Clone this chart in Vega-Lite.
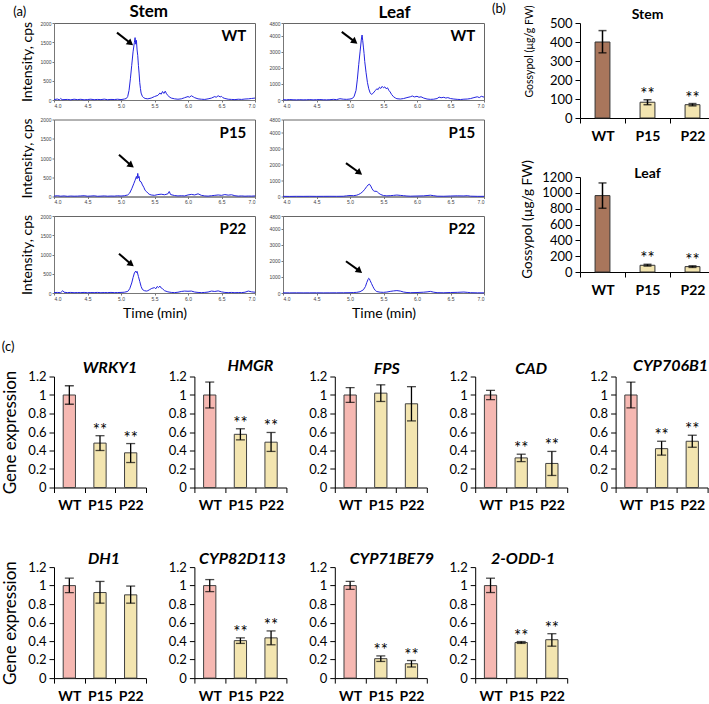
{
"$schema":"https://vega.github.io/schema/vega-lite/v6.json",
"padding":{"left":1,"top":2,"right":0,"bottom":0},
"background":"white",
"config":{
 "font":"Lato",
 "view":{"stroke":null},
 "axis":{"grid":false,"labelColor":"#000","titleColor":"#000","domainColor":"#000","tickColor":"#000","labelFont":"Lato","titleFont":"Lato","titleFontWeight":"normal"},
 "axisBand":{"tickBand":"extent","labelFontWeight":"bold","labelFontSize":14,"labelPadding":6,"tickSize":5,"labelAngle":0},
 "axisQuantitative":{"labelFontSize":13,"tickSize":5,"labelPadding":3,"titleFontSize":17},
 "title":{"font":"Lato","fontWeight":"bold","fontSize":16,"color":"#000"}
},
"datasets":{
 "sWT":[{"t":4.0,"i":10},{"t":4.05,"i":25},{"t":4.08,"i":5},{"t":4.1,"i":40},{"t":4.12,"i":8},{"t":4.2,"i":15},{"t":4.25,"i":5},{"t":4.3,"i":20},{"t":4.35,"i":10},{"t":4.4,"i":18},{"t":4.45,"i":5},{"t":4.5,"i":12},{"t":4.55,"i":20},{"t":4.6,"i":8},{"t":4.65,"i":15},{"t":4.7,"i":10},{"t":4.75,"i":22},{"t":4.8,"i":8},{"t":4.85,"i":15},{"t":4.9,"i":12},{"t":4.95,"i":20},{"t":5.0,"i":10},{"t":5.05,"i":25},{"t":5.08,"i":40},{"t":5.1,"i":90},{"t":5.12,"i":250},{"t":5.14,"i":550},{"t":5.16,"i":900},{"t":5.18,"i":1250},{"t":5.2,"i":1500},{"t":5.21,"i":1620},{"t":5.22,"i":1450},{"t":5.23,"i":1550},{"t":5.24,"i":1300},{"t":5.25,"i":1150},{"t":5.26,"i":900},{"t":5.27,"i":700},{"t":5.28,"i":450},{"t":5.29,"i":300},{"t":5.3,"i":180},{"t":5.32,"i":90},{"t":5.34,"i":60},{"t":5.36,"i":40},{"t":5.4,"i":30},{"t":5.45,"i":50},{"t":5.5,"i":90},{"t":5.55,"i":120},{"t":5.58,"i":180},{"t":5.6,"i":150},{"t":5.62,"i":220},{"t":5.64,"i":170},{"t":5.66,"i":230},{"t":5.68,"i":160},{"t":5.7,"i":120},{"t":5.72,"i":80},{"t":5.75,"i":50},{"t":5.8,"i":30},{"t":5.85,"i":20},{"t":5.9,"i":30},{"t":5.95,"i":60},{"t":6.0,"i":90},{"t":6.02,"i":70},{"t":6.05,"i":110},{"t":6.08,"i":80},{"t":6.1,"i":60},{"t":6.15,"i":30},{"t":6.2,"i":20},{"t":6.25,"i":15},{"t":6.3,"i":30},{"t":6.35,"i":50},{"t":6.4,"i":90},{"t":6.42,"i":70},{"t":6.45,"i":110},{"t":6.48,"i":80},{"t":6.5,"i":95},{"t":6.52,"i":60},{"t":6.55,"i":40},{"t":6.6,"i":20},{"t":6.65,"i":15},{"t":6.7,"i":10},{"t":6.75,"i":20},{"t":6.8,"i":15},{"t":6.85,"i":25},{"t":6.9,"i":30},{"t":6.95,"i":40},{"t":7.0,"i":50}],
 "sP15":[{"t":4.0,"i":10},{"t":4.05,"i":20},{"t":4.1,"i":8},{"t":4.15,"i":15},{"t":4.2,"i":5},{"t":4.25,"i":12},{"t":4.3,"i":8},{"t":4.35,"i":10},{"t":4.4,"i":15},{"t":4.45,"i":20},{"t":4.5,"i":8},{"t":4.55,"i":12},{"t":4.6,"i":18},{"t":4.65,"i":6},{"t":4.7,"i":10},{"t":4.75,"i":15},{"t":4.8,"i":8},{"t":4.85,"i":12},{"t":4.9,"i":10},{"t":4.95,"i":18},{"t":5.0,"i":12},{"t":5.05,"i":20},{"t":5.1,"i":40},{"t":5.13,"i":90},{"t":5.16,"i":200},{"t":5.19,"i":330},{"t":5.21,"i":420},{"t":5.23,"i":520},{"t":5.24,"i":460},{"t":5.25,"i":600},{"t":5.26,"i":480},{"t":5.27,"i":520},{"t":5.28,"i":400},{"t":5.3,"i":380},{"t":5.32,"i":300},{"t":5.34,"i":240},{"t":5.36,"i":160},{"t":5.38,"i":130},{"t":5.4,"i":90},{"t":5.42,"i":60},{"t":5.45,"i":40},{"t":5.5,"i":30},{"t":5.55,"i":50},{"t":5.6,"i":60},{"t":5.65,"i":45},{"t":5.7,"i":70},{"t":5.72,"i":130},{"t":5.74,"i":50},{"t":5.8,"i":25},{"t":5.85,"i":15},{"t":5.9,"i":20},{"t":5.95,"i":15},{"t":6.0,"i":40},{"t":6.05,"i":55},{"t":6.1,"i":40},{"t":6.15,"i":70},{"t":6.2,"i":30},{"t":6.25,"i":15},{"t":6.3,"i":10},{"t":6.35,"i":20},{"t":6.4,"i":30},{"t":6.45,"i":40},{"t":6.5,"i":30},{"t":6.55,"i":50},{"t":6.6,"i":35},{"t":6.65,"i":45},{"t":6.7,"i":20},{"t":6.75,"i":10},{"t":6.8,"i":15},{"t":6.85,"i":8},{"t":6.9,"i":12},{"t":6.95,"i":10},{"t":7.0,"i":15}],
 "sP22":[{"t":4.0,"i":10},{"t":4.05,"i":15},{"t":4.1,"i":8},{"t":4.13,"i":60},{"t":4.15,"i":20},{"t":4.2,"i":10},{"t":4.25,"i":15},{"t":4.3,"i":8},{"t":4.35,"i":12},{"t":4.4,"i":10},{"t":4.45,"i":15},{"t":4.5,"i":8},{"t":4.55,"i":12},{"t":4.6,"i":10},{"t":4.65,"i":15},{"t":4.7,"i":8},{"t":4.75,"i":12},{"t":4.8,"i":10},{"t":4.85,"i":15},{"t":4.9,"i":10},{"t":4.95,"i":12},{"t":5.0,"i":15},{"t":5.05,"i":20},{"t":5.1,"i":40},{"t":5.13,"i":110},{"t":5.16,"i":260},{"t":5.18,"i":400},{"t":5.2,"i":520},{"t":5.22,"i":570},{"t":5.23,"i":530},{"t":5.24,"i":560},{"t":5.26,"i":430},{"t":5.28,"i":300},{"t":5.3,"i":170},{"t":5.32,"i":90},{"t":5.35,"i":60},{"t":5.38,"i":50},{"t":5.4,"i":60},{"t":5.43,"i":90},{"t":5.46,"i":120},{"t":5.5,"i":140},{"t":5.52,"i":110},{"t":5.54,"i":170},{"t":5.56,"i":140},{"t":5.58,"i":180},{"t":5.6,"i":130},{"t":5.62,"i":110},{"t":5.65,"i":60},{"t":5.7,"i":30},{"t":5.75,"i":15},{"t":5.8,"i":10},{"t":5.85,"i":20},{"t":5.9,"i":40},{"t":5.95,"i":50},{"t":6.0,"i":45},{"t":6.05,"i":50},{"t":6.1,"i":25},{"t":6.15,"i":15},{"t":6.2,"i":10},{"t":6.25,"i":15},{"t":6.3,"i":25},{"t":6.35,"i":50},{"t":6.4,"i":40},{"t":6.45,"i":55},{"t":6.5,"i":30},{"t":6.55,"i":15},{"t":6.6,"i":10},{"t":6.65,"i":15},{"t":6.7,"i":8},{"t":6.75,"i":12},{"t":6.8,"i":10},{"t":6.85,"i":20},{"t":6.9,"i":50},{"t":6.95,"i":30},{"t":7.0,"i":20}],
 "lWT":[{"t":4.0,"i":20},{"t":4.05,"i":10},{"t":4.1,"i":30},{"t":4.15,"i":15},{"t":4.2,"i":10},{"t":4.25,"i":20},{"t":4.3,"i":10},{"t":4.35,"i":15},{"t":4.4,"i":25},{"t":4.45,"i":10},{"t":4.5,"i":20},{"t":4.55,"i":30},{"t":4.6,"i":15},{"t":4.65,"i":10},{"t":4.7,"i":20},{"t":4.75,"i":40},{"t":4.8,"i":25},{"t":4.85,"i":80},{"t":4.9,"i":50},{"t":4.95,"i":40},{"t":5.0,"i":60},{"t":5.03,"i":90},{"t":5.06,"i":200},{"t":5.09,"i":600},{"t":5.11,"i":1300},{"t":5.13,"i":2200},{"t":5.15,"i":3000},{"t":5.17,"i":3800},{"t":5.18,"i":4050},{"t":5.19,"i":3700},{"t":5.2,"i":3300},{"t":5.21,"i":2900},{"t":5.22,"i":2400},{"t":5.24,"i":1700},{"t":5.26,"i":1100},{"t":5.28,"i":700},{"t":5.3,"i":450},{"t":5.32,"i":350},{"t":5.34,"i":400},{"t":5.36,"i":500},{"t":5.38,"i":600},{"t":5.4,"i":700},{"t":5.42,"i":650},{"t":5.44,"i":800},{"t":5.46,"i":720},{"t":5.48,"i":850},{"t":5.5,"i":760},{"t":5.52,"i":820},{"t":5.54,"i":700},{"t":5.56,"i":760},{"t":5.58,"i":600},{"t":5.6,"i":500},{"t":5.62,"i":350},{"t":5.65,"i":200},{"t":5.68,"i":120},{"t":5.7,"i":80},{"t":5.75,"i":60},{"t":5.8,"i":90},{"t":5.85,"i":150},{"t":5.9,"i":200},{"t":5.93,"i":250},{"t":5.96,"i":190},{"t":6.0,"i":230},{"t":6.03,"i":170},{"t":6.06,"i":200},{"t":6.1,"i":120},{"t":6.15,"i":60},{"t":6.2,"i":40},{"t":6.25,"i":50},{"t":6.3,"i":90},{"t":6.33,"i":180},{"t":6.36,"i":140},{"t":6.4,"i":170},{"t":6.43,"i":120},{"t":6.46,"i":150},{"t":6.5,"i":90},{"t":6.55,"i":60},{"t":6.6,"i":40},{"t":6.65,"i":30},{"t":6.7,"i":50},{"t":6.75,"i":60},{"t":6.8,"i":90},{"t":6.85,"i":150},{"t":6.9,"i":200},{"t":6.93,"i":150},{"t":6.96,"i":230},{"t":7.0,"i":180}],
 "lP15":[{"t":4.0,"i":10},{"t":4.1,"i":5},{"t":4.2,"i":10},{"t":4.3,"i":8},{"t":4.4,"i":12},{"t":4.5,"i":8},{"t":4.6,"i":10},{"t":4.7,"i":12},{"t":4.8,"i":10},{"t":4.9,"i":15},{"t":4.95,"i":40},{"t":5.0,"i":60},{"t":5.05,"i":50},{"t":5.1,"i":80},{"t":5.13,"i":130},{"t":5.16,"i":200},{"t":5.19,"i":300},{"t":5.22,"i":450},{"t":5.25,"i":620},{"t":5.27,"i":720},{"t":5.29,"i":770},{"t":5.31,"i":650},{"t":5.33,"i":480},{"t":5.35,"i":360},{"t":5.37,"i":320},{"t":5.39,"i":330},{"t":5.41,"i":280},{"t":5.43,"i":200},{"t":5.46,"i":120},{"t":5.5,"i":60},{"t":5.55,"i":40},{"t":5.6,"i":50},{"t":5.65,"i":70},{"t":5.7,"i":90},{"t":5.75,"i":70},{"t":5.8,"i":50},{"t":5.85,"i":30},{"t":5.9,"i":20},{"t":6.0,"i":30},{"t":6.1,"i":40},{"t":6.15,"i":60},{"t":6.2,"i":80},{"t":6.25,"i":50},{"t":6.3,"i":20},{"t":6.4,"i":15},{"t":6.5,"i":30},{"t":6.6,"i":40},{"t":6.7,"i":35},{"t":6.75,"i":50},{"t":6.8,"i":20},{"t":6.9,"i":10},{"t":7.0,"i":10}],
 "lP22":[{"t":4.0,"i":10},{"t":4.1,"i":8},{"t":4.2,"i":12},{"t":4.3,"i":8},{"t":4.4,"i":10},{"t":4.5,"i":12},{"t":4.6,"i":8},{"t":4.7,"i":10},{"t":4.8,"i":12},{"t":4.9,"i":15},{"t":5.0,"i":20},{"t":5.05,"i":30},{"t":5.1,"i":40},{"t":5.15,"i":80},{"t":5.2,"i":200},{"t":5.23,"i":400},{"t":5.25,"i":650},{"t":5.27,"i":850},{"t":5.28,"i":920},{"t":5.29,"i":880},{"t":5.3,"i":780},{"t":5.32,"i":600},{"t":5.34,"i":420},{"t":5.36,"i":260},{"t":5.38,"i":150},{"t":5.4,"i":90},{"t":5.45,"i":50},{"t":5.5,"i":40},{"t":5.55,"i":60},{"t":5.6,"i":100},{"t":5.65,"i":130},{"t":5.7,"i":150},{"t":5.75,"i":120},{"t":5.8,"i":60},{"t":5.85,"i":30},{"t":5.9,"i":20},{"t":6.0,"i":30},{"t":6.1,"i":50},{"t":6.15,"i":70},{"t":6.2,"i":100},{"t":6.25,"i":50},{"t":6.3,"i":20},{"t":6.4,"i":15},{"t":6.5,"i":30},{"t":6.6,"i":40},{"t":6.7,"i":60},{"t":6.75,"i":40},{"t":6.8,"i":20},{"t":6.9,"i":10},{"t":7.0,"i":10}],
 "bStem":[{"g":"WT","v":400,"lo":343,"hi":460,"sig":""},{"g":"P15","v":83,"lo":70,"hi":96,"sig":"**"},{"g":"P22","v":70,"lo":64,"hi":76,"sig":"**"}],
 "bLeaf":[{"g":"WT","v":965,"lo":805,"hi":1125,"sig":""},{"g":"P15","v":85,"lo":75,"hi":97,"sig":"**"},{"g":"P22","v":68,"lo":58,"hi":78,"sig":"**"}],
 "WRKY1":[{"g":"WT","v":1.0,"lo":0.9,"hi":1.1,"sig":""},{"g":"P15","v":0.48,"lo":0.4,"hi":0.56,"sig":"**"},{"g":"P22","v":0.375,"lo":0.27,"hi":0.475,"sig":"**"}],
 "HMGR":[{"g":"WT","v":1.0,"lo":0.86,"hi":1.14,"sig":""},{"g":"P15","v":0.575,"lo":0.515,"hi":0.635,"sig":"**"},{"g":"P22","v":0.49,"lo":0.39,"hi":0.595,"sig":"**"}],
 "FPS":[{"g":"WT","v":1.0,"lo":0.92,"hi":1.08,"sig":""},{"g":"P15","v":1.02,"lo":0.93,"hi":1.11,"sig":""},{"g":"P22","v":0.905,"lo":0.72,"hi":1.09,"sig":""}],
 "CAD":[{"g":"WT","v":1.0,"lo":0.95,"hi":1.05,"sig":""},{"g":"P15","v":0.32,"lo":0.28,"hi":0.36,"sig":"**"},{"g":"P22","v":0.26,"lo":0.13,"hi":0.39,"sig":"**"}],
 "CYP706B1":[{"g":"WT","v":1.0,"lo":0.86,"hi":1.14,"sig":""},{"g":"P15","v":0.42,"lo":0.35,"hi":0.5,"sig":"**"},{"g":"P22","v":0.5,"lo":0.435,"hi":0.565,"sig":"**"}],
 "DH1":[{"g":"WT","v":1.0,"lo":0.925,"hi":1.08,"sig":""},{"g":"P15","v":0.925,"lo":0.81,"hi":1.045,"sig":""},{"g":"P22","v":0.9,"lo":0.81,"hi":0.995,"sig":""}],
 "CYP82D113":[{"g":"WT","v":1.0,"lo":0.935,"hi":1.065,"sig":""},{"g":"P15","v":0.405,"lo":0.375,"hi":0.435,"sig":"**"},{"g":"P22","v":0.435,"lo":0.36,"hi":0.51,"sig":"**"}],
 "CYP71BE79":[{"g":"WT","v":1.0,"lo":0.96,"hi":1.045,"sig":""},{"g":"P15","v":0.21,"lo":0.18,"hi":0.24,"sig":"**"},{"g":"P22","v":0.155,"lo":0.12,"hi":0.19,"sig":"**"}],
 "ODD":[{"g":"WT","v":1.0,"lo":0.925,"hi":1.08,"sig":""},{"g":"P15","v":0.385,"lo":0.375,"hi":0.395,"sig":"**"},{"g":"P22","v":0.415,"lo":0.345,"hi":0.48,"sig":"**"}]
},
"vconcat":[
 {"hconcat":[
  {"columns":2,"bounds":"flush","spacing":{"row":19.5,"column":28},
   "concat":[
    {"width":201,"height":77,"view":{"stroke":"#666","strokeWidth":1},
     "layer":[
      {"data":{"name":"sWT"},"mark":{"type":"line","color":"#2424e0","strokeWidth":1},
       "encoding":{"x":{"field":"t","type":"quantitative","scale":{"domain":[4,7],"nice":false,"zero":false},"axis":{"values":[4,4.5,5,5.5,6,6.5,7],"tickCount":20,"format":".1f","labelFont":"Liberation Sans","labelFontSize":5,"labelColor":"#444","tickSize":2,"tickColor":"#777","domainColor":"#777","labelPadding":1,"labelOverlap":false,"title":null}},
        "y":{"field":"i","type":"quantitative","scale":{"domain":[0,2000],"nice":false},"axis":{"values":[0,500,1000,1500,2000],"tickCount":20,"format":"d","labelFont":"Liberation Sans","labelFontSize":5,"labelColor":"#444","tickSize":2,"tickColor":"#777","domainColor":"#777","labelPadding":1,"labelOverlap":false,"title":"Intensity, cps","titleFontSize":14,"titlePadding":5.7}}}},
      {"data":{"values":[{}]},"mark":{"type":"rule","strokeWidth":2,"color":"#000"},"encoding":{"x":{"datum":4.94},"y":{"datum":1750},"x2":{"datum":5.12},"y2":{"datum":1505}}},
      {"data":{"values":[{}]},"mark":{"type":"point","shape":"triangle","filled":true,"size":55,"angle":128,"color":"#000","opacity":1},"encoding":{"x":{"datum":5.13},"y":{"datum":1490}}},
      {"data":{"values":[{}]},"mark":{"type":"text","text":"WT","fontWeight":"bold","fontSize":15,"align":"right","baseline":"middle"},"encoding":{"x":{"datum":6.87},"y":{"datum":1660}}},
      {"data":{"values":[{}]},"mark":{"type":"text","text":"(a)","fontSize":13,"align":"center","baseline":"middle"},"encoding":{"x":{"datum":3.49},"y":{"datum":2286}}},
      {"data":{"values":[{}]},"mark":{"type":"text","text":"Stem","fontSize":17,"fontWeight":"bold","align":"center","baseline":"middle"},"encoding":{"x":{"datum":5.414},"y":{"datum":2273}}}
     ]},
    {"width":201,"height":77,"view":{"stroke":"#666","strokeWidth":1},
     "layer":[
      {"data":{"name":"lWT"},"mark":{"type":"line","color":"#2424e0","strokeWidth":1},
       "encoding":{"x":{"field":"t","type":"quantitative","scale":{"domain":[4,7],"nice":false,"zero":false},"axis":{"values":[4,4.5,5,5.5,6,6.5,7],"tickCount":20,"format":".1f","labelFont":"Liberation Sans","labelFontSize":5,"labelColor":"#444","tickSize":2,"tickColor":"#777","domainColor":"#777","labelPadding":1,"labelOverlap":false,"title":null}},
        "y":{"field":"i","type":"quantitative","scale":{"domain":[0,4800],"nice":false},"axis":{"values":[0,1000,2000,3000,4000,4800],"tickCount":20,"format":"d","labelFont":"Liberation Sans","labelFontSize":5,"labelColor":"#444","tickSize":2,"tickColor":"#777","domainColor":"#777","labelPadding":1,"labelOverlap":false,"title":null}}}},
      {"data":{"values":[{}]},"mark":{"type":"rule","strokeWidth":2,"color":"#000"},"encoding":{"x":{"datum":4.877},"y":{"datum":4246},"x2":{"datum":5.05},"y2":{"datum":3700}}},
      {"data":{"values":[{}]},"mark":{"type":"point","shape":"triangle","filled":true,"size":55,"angle":128,"color":"#000","opacity":1},"encoding":{"x":{"datum":5.06},"y":{"datum":3674}}},
      {"data":{"values":[{}]},"mark":{"type":"text","text":"WT","fontWeight":"bold","fontSize":15,"align":"right","baseline":"middle"},"encoding":{"x":{"datum":6.87},"y":{"datum":3980}}},
      {"data":{"values":[{}]},"mark":{"type":"text","text":"Leaf","fontSize":17,"fontWeight":"bold","align":"center","baseline":"middle"},"encoding":{"x":{"datum":5.666},"y":{"datum":5446}}}
     ]},
    {"width":201,"height":77,"view":{"stroke":"#666","strokeWidth":1},
     "layer":[
      {"data":{"name":"sP15"},"mark":{"type":"line","color":"#2424e0","strokeWidth":1},
       "encoding":{"x":{"field":"t","type":"quantitative","scale":{"domain":[4,7],"nice":false,"zero":false},"axis":{"values":[4,4.5,5,5.5,6,6.5,7],"tickCount":20,"format":".1f","labelFont":"Liberation Sans","labelFontSize":5,"labelColor":"#444","tickSize":2,"tickColor":"#777","domainColor":"#777","labelPadding":1,"labelOverlap":false,"title":null}},
        "y":{"field":"i","type":"quantitative","scale":{"domain":[0,2000],"nice":false},"axis":{"values":[0,500,1000,1500,2000],"tickCount":20,"format":"d","labelFont":"Liberation Sans","labelFontSize":5,"labelColor":"#444","tickSize":2,"tickColor":"#777","domainColor":"#777","labelPadding":1,"labelOverlap":false,"title":"Intensity, cps","titleFontSize":14,"titlePadding":5.7}}}},
      {"data":{"values":[{}]},"mark":{"type":"rule","strokeWidth":2,"color":"#000"},"encoding":{"x":{"datum":4.97},"y":{"datum":1087},"x2":{"datum":5.13},"y2":{"datum":840}}},
      {"data":{"values":[{}]},"mark":{"type":"point","shape":"triangle","filled":true,"size":55,"angle":128,"color":"#000","opacity":1},"encoding":{"x":{"datum":5.14},"y":{"datum":824}}},
      {"data":{"values":[{}]},"mark":{"type":"text","text":"P15","fontWeight":"bold","fontSize":15,"align":"right","baseline":"middle"},"encoding":{"x":{"datum":6.87},"y":{"datum":1660}}}
     ]},
    {"width":201,"height":77,"view":{"stroke":"#666","strokeWidth":1},
     "layer":[
      {"data":{"name":"lP15"},"mark":{"type":"line","color":"#2424e0","strokeWidth":1},
       "encoding":{"x":{"field":"t","type":"quantitative","scale":{"domain":[4,7],"nice":false,"zero":false},"axis":{"values":[4,4.5,5,5.5,6,6.5,7],"tickCount":20,"format":".1f","labelFont":"Liberation Sans","labelFontSize":5,"labelColor":"#444","tickSize":2,"tickColor":"#777","domainColor":"#777","labelPadding":1,"labelOverlap":false,"title":null}},
        "y":{"field":"i","type":"quantitative","scale":{"domain":[0,4800],"nice":false},"axis":{"values":[0,1000,2000,3000,4000,4800],"tickCount":20,"format":"d","labelFont":"Liberation Sans","labelFontSize":5,"labelColor":"#444","tickSize":2,"tickColor":"#777","domainColor":"#777","labelPadding":1,"labelOverlap":false,"title":null}}}},
      {"data":{"values":[{}]},"mark":{"type":"rule","strokeWidth":2,"color":"#000"},"encoding":{"x":{"datum":4.94},"y":{"datum":2084},"x2":{"datum":5.12},"y2":{"datum":1545}}},
      {"data":{"values":[{}]},"mark":{"type":"point","shape":"triangle","filled":true,"size":55,"angle":128,"color":"#000","opacity":1},"encoding":{"x":{"datum":5.13},"y":{"datum":1516}}},
      {"data":{"values":[{}]},"mark":{"type":"text","text":"P15","fontWeight":"bold","fontSize":15,"align":"right","baseline":"middle"},"encoding":{"x":{"datum":6.87},"y":{"datum":3980}}}
     ]},
    {"width":201,"height":77,"view":{"stroke":"#666","strokeWidth":1},
     "layer":[
      {"data":{"name":"sP22"},"mark":{"type":"line","color":"#2424e0","strokeWidth":1},
       "encoding":{"x":{"field":"t","type":"quantitative","scale":{"domain":[4,7],"nice":false,"zero":false},"axis":{"values":[4,4.5,5,5.5,6,6.5,7],"tickCount":20,"format":".1f","labelFont":"Liberation Sans","labelFontSize":5,"labelColor":"#444","tickSize":2,"tickColor":"#777","domainColor":"#777","labelPadding":1,"labelOverlap":false,"title":"Time (min)","titleFontSize":14,"titlePadding":5}},
        "y":{"field":"i","type":"quantitative","scale":{"domain":[0,2000],"nice":false},"axis":{"values":[0,500,1000,1500,2000],"tickCount":20,"format":"d","labelFont":"Liberation Sans","labelFontSize":5,"labelColor":"#444","tickSize":2,"tickColor":"#777","domainColor":"#777","labelPadding":1,"labelOverlap":false,"title":"Intensity, cps","titleFontSize":14,"titlePadding":5.7}}}},
      {"data":{"values":[{}]},"mark":{"type":"rule","strokeWidth":2,"color":"#000"},"encoding":{"x":{"datum":4.97},"y":{"datum":1021},"x2":{"datum":5.13},"y2":{"datum":777}}},
      {"data":{"values":[{}]},"mark":{"type":"point","shape":"triangle","filled":true,"size":55,"angle":128,"color":"#000","opacity":1},"encoding":{"x":{"datum":5.14},"y":{"datum":761}}},
      {"data":{"values":[{}]},"mark":{"type":"text","text":"P22","fontWeight":"bold","fontSize":15,"align":"right","baseline":"middle"},"encoding":{"x":{"datum":6.87},"y":{"datum":1660}}}
     ]},
    {"width":201,"height":77,"view":{"stroke":"#666","strokeWidth":1},
     "layer":[
      {"data":{"name":"lP22"},"mark":{"type":"line","color":"#2424e0","strokeWidth":1},
       "encoding":{"x":{"field":"t","type":"quantitative","scale":{"domain":[4,7],"nice":false,"zero":false},"axis":{"values":[4,4.5,5,5.5,6,6.5,7],"tickCount":20,"format":".1f","labelFont":"Liberation Sans","labelFontSize":5,"labelColor":"#444","tickSize":2,"tickColor":"#777","domainColor":"#777","labelPadding":1,"labelOverlap":false,"title":"Time (min)","titleFontSize":14,"titlePadding":5}},
        "y":{"field":"i","type":"quantitative","scale":{"domain":[0,4800],"nice":false},"axis":{"values":[0,1000,2000,3000,4000,4800],"tickCount":20,"format":"d","labelFont":"Liberation Sans","labelFontSize":5,"labelColor":"#444","tickSize":2,"tickColor":"#777","domainColor":"#777","labelPadding":1,"labelOverlap":false,"title":null}}}},
      {"data":{"values":[{}]},"mark":{"type":"rule","strokeWidth":2,"color":"#000"},"encoding":{"x":{"datum":4.94},"y":{"datum":1976},"x2":{"datum":5.12},"y2":{"datum":1445}}},
      {"data":{"values":[{}]},"mark":{"type":"point","shape":"triangle","filled":true,"size":55,"angle":128,"color":"#000","opacity":1},"encoding":{"x":{"datum":5.13},"y":{"datum":1415}}},
      {"data":{"values":[{}]},"mark":{"type":"text","text":"P22","fontWeight":"bold","fontSize":15,"align":"right","baseline":"middle"},"encoding":{"x":{"datum":6.87},"y":{"datum":3980}}}
     ]}
   ]},
  {"bounds":"flush","spacing":59,
   "vconcat":[
    {"width":135,"height":95,"data":{"name":"bStem"},
     "title":{"text":"(b)","anchor":"start","frame":"group","fontSize":13,"fontWeight":"normal","offset":-11.5,"dx":-88},
     "encoding":{"x":{"field":"g","type":"nominal","sort":null,"title":null,"scale":{"paddingInner":0,"paddingOuter":0}}},
     "layer":[
      {"mark":{"type":"bar","width":{"band":0.33},"stroke":"#333","strokeWidth":1},
       "encoding":{"y":{"field":"v","type":"quantitative","scale":{"domain":[0,500]},"title":"Gossypol (µg/g FW)","axis":{"values":[0,100,200,300,400,500],"tickCount":20,"labelOverlap":false,"titleFontSize":10.5,"titlePadding":15,"titleY":28}},
        "fill":{"condition":{"test":"datum.g === 'WT'","value":"#A9765C"},"value":"#F3E5B0"}}},
      {"mark":{"type":"rule","strokeWidth":1.5,"color":"#000"},"encoding":{"y":{"field":"lo","type":"quantitative","title":"Gossypol (µg/g FW)"},"y2":{"field":"hi"}}},
      {"mark":{"type":"tick","size":8,"thickness":1.5,"color":"#000"},"encoding":{"y":{"field":"lo","type":"quantitative","title":"Gossypol (µg/g FW)"}}},
      {"mark":{"type":"tick","size":8,"thickness":1.5,"color":"#000"},"encoding":{"y":{"field":"hi","type":"quantitative","title":"Gossypol (µg/g FW)"}}},
      {"mark":{"type":"text","fontSize":17,"dy":-5,"color":"#000"},"encoding":{"y":{"field":"hi","type":"quantitative","title":"Gossypol (µg/g FW)"},"text":{"field":"sig"}}},
      {"data":{"values":[{}]},"mark":{"type":"text","text":"Stem","fontSize":14,"fontWeight":"bold","baseline":"middle"},"encoding":{"x":{"datum":"P15"},"y":{"datum":542,"type":"quantitative","title":"Gossypol (µg/g FW)"}}}
     ]},
    {"width":135,"height":95,"data":{"name":"bLeaf"},
     "encoding":{"x":{"field":"g","type":"nominal","sort":null,"title":null,"scale":{"paddingInner":0,"paddingOuter":0}}},
     "layer":[
      {"mark":{"type":"bar","width":{"band":0.33},"stroke":"#333","strokeWidth":1},
       "encoding":{"y":{"field":"v","type":"quantitative","scale":{"domain":[0,1200]},"title":"Gossypol (µg/g FW)","axis":{"values":[0,200,400,600,800,1000,1200],"tickCount":20,"format":"d","labelOverlap":false,"titleFontSize":13.5,"titlePadding":7,"titleY":42}},
        "fill":{"condition":{"test":"datum.g === 'WT'","value":"#A9765C"},"value":"#F3E5B0"}}},
      {"mark":{"type":"rule","strokeWidth":1.5,"color":"#000"},"encoding":{"y":{"field":"lo","type":"quantitative","title":"Gossypol (µg/g FW)"},"y2":{"field":"hi"}}},
      {"mark":{"type":"tick","size":8,"thickness":1.5,"color":"#000"},"encoding":{"y":{"field":"lo","type":"quantitative","title":"Gossypol (µg/g FW)"}}},
      {"mark":{"type":"tick","size":8,"thickness":1.5,"color":"#000"},"encoding":{"y":{"field":"hi","type":"quantitative","title":"Gossypol (µg/g FW)"}}},
      {"mark":{"type":"text","fontSize":17,"dy":-5,"color":"#000"},"encoding":{"y":{"field":"hi","type":"quantitative","title":"Gossypol (µg/g FW)"},"text":{"field":"sig"}}},
      {"data":{"values":[{}]},"mark":{"type":"text","text":"Leaf","fontSize":14,"fontWeight":"bold","baseline":"middle"},"encoding":{"x":{"datum":"P15"},"y":{"datum":1238,"type":"quantitative","title":"Gossypol (µg/g FW)"}}}
     ]}
   ]}
 ],"spacing":5},
 {"title":{"text":"(c)","anchor":"start","fontSize":13,"fontWeight":"normal","offset":3.7},
  "columns":5,"bounds":"flush","spacing":{"row":79.6,"column":48.4},
  "concat":[
   {"width":92,"height":111,"data":{"name":"WRKY1"},"title":{"text":"WRKY1","fontStyle":"italic","fontSize":16,"offset":-6,"dx":10},
    "encoding":{"x":{"field":"g","type":"nominal","sort":null,"title":null,"scale":{"paddingInner":0,"paddingOuter":0}}},
    "layer":[
     {"mark":{"type":"bar","width":{"band":0.4},"stroke":"#404040","strokeWidth":1},"encoding":{"y":{"field":"v","type":"quantitative","scale":{"domain":[0,1.2]},"title":"Gene expression","axis":{"values":[0,0.2,0.4,0.6,0.8,1,1.2],"tickCount":20,"format":"~g","labelOverlap":false,"titlePadding":8}},"fill":{"condition":{"test":"datum.g === 'WT'","value":"#F6B8B2"},"value":"#F3E5B0"}}},
     {"mark":{"type":"rule","strokeWidth":1.3,"color":"#000"},"encoding":{"y":{"field":"lo","type":"quantitative","title":"Gene expression"},"y2":{"field":"hi"}}},
     {"mark":{"type":"tick","size":9,"thickness":1.3,"color":"#000"},"encoding":{"y":{"field":"lo","type":"quantitative","title":"Gene expression"}}},
     {"mark":{"type":"tick","size":9,"thickness":1.3,"color":"#000"},"encoding":{"y":{"field":"hi","type":"quantitative","title":"Gene expression"}}},
     {"mark":{"type":"text","fontSize":17,"dy":-5,"color":"#000"},"encoding":{"y":{"field":"hi","type":"quantitative","title":"Gene expression"},"text":{"field":"sig"}}}
    ]},
   {"width":92,"height":111,"data":{"name":"HMGR"},"title":{"text":"HMGR","fontStyle":"italic","fontSize":16,"offset":-6,"dx":10},
    "encoding":{"x":{"field":"g","type":"nominal","sort":null,"title":null,"scale":{"paddingInner":0,"paddingOuter":0}}},
    "layer":[
     {"mark":{"type":"bar","width":{"band":0.4},"stroke":"#404040","strokeWidth":1},"encoding":{"y":{"field":"v","type":"quantitative","scale":{"domain":[0,1.2]},"title":null,"axis":{"values":[0,0.2,0.4,0.6,0.8,1,1.2],"tickCount":20,"format":"~g","labelOverlap":false}},"fill":{"condition":{"test":"datum.g === 'WT'","value":"#F6B8B2"},"value":"#F3E5B0"}}},
     {"mark":{"type":"rule","strokeWidth":1.3,"color":"#000"},"encoding":{"y":{"field":"lo","type":"quantitative","title":null},"y2":{"field":"hi"}}},
     {"mark":{"type":"tick","size":9,"thickness":1.3,"color":"#000"},"encoding":{"y":{"field":"lo","type":"quantitative","title":null}}},
     {"mark":{"type":"tick","size":9,"thickness":1.3,"color":"#000"},"encoding":{"y":{"field":"hi","type":"quantitative","title":null}}},
     {"mark":{"type":"text","fontSize":17,"dy":-5,"color":"#000"},"encoding":{"y":{"field":"hi","type":"quantitative","title":null},"text":{"field":"sig"}}}
    ]},
   {"width":92,"height":111,"data":{"name":"FPS"},"title":{"text":"FPS","fontStyle":"italic","fontSize":16,"offset":-6,"dx":6},
    "encoding":{"x":{"field":"g","type":"nominal","sort":null,"title":null,"scale":{"paddingInner":0,"paddingOuter":0}}},
    "layer":[
     {"mark":{"type":"bar","width":{"band":0.4},"stroke":"#404040","strokeWidth":1},"encoding":{"y":{"field":"v","type":"quantitative","scale":{"domain":[0,1.2]},"title":null,"axis":{"values":[0,0.2,0.4,0.6,0.8,1,1.2],"tickCount":20,"format":"~g","labelOverlap":false}},"fill":{"condition":{"test":"datum.g === 'WT'","value":"#F6B8B2"},"value":"#F3E5B0"}}},
     {"mark":{"type":"rule","strokeWidth":1.3,"color":"#000"},"encoding":{"y":{"field":"lo","type":"quantitative","title":null},"y2":{"field":"hi"}}},
     {"mark":{"type":"tick","size":9,"thickness":1.3,"color":"#000"},"encoding":{"y":{"field":"lo","type":"quantitative","title":null}}},
     {"mark":{"type":"tick","size":9,"thickness":1.3,"color":"#000"},"encoding":{"y":{"field":"hi","type":"quantitative","title":null}}},
     {"mark":{"type":"text","fontSize":17,"dy":-5,"color":"#000"},"encoding":{"y":{"field":"hi","type":"quantitative","title":null},"text":{"field":"sig"}}}
    ]},
   {"width":92,"height":111,"data":{"name":"CAD"},"title":{"text":"CAD","fontStyle":"italic","fontSize":16,"offset":-6,"dx":10},
    "encoding":{"x":{"field":"g","type":"nominal","sort":null,"title":null,"scale":{"paddingInner":0,"paddingOuter":0}}},
    "layer":[
     {"mark":{"type":"bar","width":{"band":0.4},"stroke":"#404040","strokeWidth":1},"encoding":{"y":{"field":"v","type":"quantitative","scale":{"domain":[0,1.2]},"title":null,"axis":{"values":[0,0.2,0.4,0.6,0.8,1,1.2],"tickCount":20,"format":"~g","labelOverlap":false}},"fill":{"condition":{"test":"datum.g === 'WT'","value":"#F6B8B2"},"value":"#F3E5B0"}}},
     {"mark":{"type":"rule","strokeWidth":1.3,"color":"#000"},"encoding":{"y":{"field":"lo","type":"quantitative","title":null},"y2":{"field":"hi"}}},
     {"mark":{"type":"tick","size":9,"thickness":1.3,"color":"#000"},"encoding":{"y":{"field":"lo","type":"quantitative","title":null}}},
     {"mark":{"type":"tick","size":9,"thickness":1.3,"color":"#000"},"encoding":{"y":{"field":"hi","type":"quantitative","title":null}}},
     {"mark":{"type":"text","fontSize":17,"dy":-5,"color":"#000"},"encoding":{"y":{"field":"hi","type":"quantitative","title":null},"text":{"field":"sig"}}}
    ]},
   {"width":92,"height":111,"data":{"name":"CYP706B1"},"title":{"text":"CYP706B1","fontStyle":"italic","fontSize":16,"offset":-6,"dx":9},
    "encoding":{"x":{"field":"g","type":"nominal","sort":null,"title":null,"scale":{"paddingInner":0,"paddingOuter":0}}},
    "layer":[
     {"mark":{"type":"bar","width":{"band":0.4},"stroke":"#404040","strokeWidth":1},"encoding":{"y":{"field":"v","type":"quantitative","scale":{"domain":[0,1.2]},"title":null,"axis":{"values":[0,0.2,0.4,0.6,0.8,1,1.2],"tickCount":20,"format":"~g","labelOverlap":false}},"fill":{"condition":{"test":"datum.g === 'WT'","value":"#F6B8B2"},"value":"#F3E5B0"}}},
     {"mark":{"type":"rule","strokeWidth":1.3,"color":"#000"},"encoding":{"y":{"field":"lo","type":"quantitative","title":null},"y2":{"field":"hi"}}},
     {"mark":{"type":"tick","size":9,"thickness":1.3,"color":"#000"},"encoding":{"y":{"field":"lo","type":"quantitative","title":null}}},
     {"mark":{"type":"tick","size":9,"thickness":1.3,"color":"#000"},"encoding":{"y":{"field":"hi","type":"quantitative","title":null}}},
     {"mark":{"type":"text","fontSize":17,"dy":-5,"color":"#000"},"encoding":{"y":{"field":"hi","type":"quantitative","title":null},"text":{"field":"sig"}}}
    ]},
   {"width":92,"height":111,"data":{"name":"DH1"},"title":{"text":"DH1","fontStyle":"italic","fontSize":16,"offset":-6,"dx":4},
    "encoding":{"x":{"field":"g","type":"nominal","sort":null,"title":null,"scale":{"paddingInner":0,"paddingOuter":0}}},
    "layer":[
     {"mark":{"type":"bar","width":{"band":0.4},"stroke":"#404040","strokeWidth":1},"encoding":{"y":{"field":"v","type":"quantitative","scale":{"domain":[0,1.2]},"title":"Gene expression","axis":{"values":[0,0.2,0.4,0.6,0.8,1,1.2],"tickCount":20,"format":"~g","labelOverlap":false,"titlePadding":8}},"fill":{"condition":{"test":"datum.g === 'WT'","value":"#F6B8B2"},"value":"#F3E5B0"}}},
     {"mark":{"type":"rule","strokeWidth":1.3,"color":"#000"},"encoding":{"y":{"field":"lo","type":"quantitative","title":"Gene expression"},"y2":{"field":"hi"}}},
     {"mark":{"type":"tick","size":9,"thickness":1.3,"color":"#000"},"encoding":{"y":{"field":"lo","type":"quantitative","title":"Gene expression"}}},
     {"mark":{"type":"tick","size":9,"thickness":1.3,"color":"#000"},"encoding":{"y":{"field":"hi","type":"quantitative","title":"Gene expression"}}},
     {"mark":{"type":"text","fontSize":17,"dy":-5,"color":"#000"},"encoding":{"y":{"field":"hi","type":"quantitative","title":"Gene expression"},"text":{"field":"sig"}}}
    ]},
   {"width":92,"height":111,"data":{"name":"CYP82D113"},"title":{"text":"CYP82D113","fontStyle":"italic","fontSize":16,"offset":-6,"dx":2},
    "encoding":{"x":{"field":"g","type":"nominal","sort":null,"title":null,"scale":{"paddingInner":0,"paddingOuter":0}}},
    "layer":[
     {"mark":{"type":"bar","width":{"band":0.4},"stroke":"#404040","strokeWidth":1},"encoding":{"y":{"field":"v","type":"quantitative","scale":{"domain":[0,1.2]},"title":null,"axis":{"values":[0,0.2,0.4,0.6,0.8,1,1.2],"tickCount":20,"format":"~g","labelOverlap":false}},"fill":{"condition":{"test":"datum.g === 'WT'","value":"#F6B8B2"},"value":"#F3E5B0"}}},
     {"mark":{"type":"rule","strokeWidth":1.3,"color":"#000"},"encoding":{"y":{"field":"lo","type":"quantitative","title":null},"y2":{"field":"hi"}}},
     {"mark":{"type":"tick","size":9,"thickness":1.3,"color":"#000"},"encoding":{"y":{"field":"lo","type":"quantitative","title":null}}},
     {"mark":{"type":"tick","size":9,"thickness":1.3,"color":"#000"},"encoding":{"y":{"field":"hi","type":"quantitative","title":null}}},
     {"mark":{"type":"text","fontSize":17,"dy":-5,"color":"#000"},"encoding":{"y":{"field":"hi","type":"quantitative","title":null},"text":{"field":"sig"}}}
    ]},
   {"width":92,"height":111,"data":{"name":"CYP71BE79"},"title":{"text":"CYP71BE79","fontStyle":"italic","fontSize":16,"offset":-6,"dx":11},
    "encoding":{"x":{"field":"g","type":"nominal","sort":null,"title":null,"scale":{"paddingInner":0,"paddingOuter":0}}},
    "layer":[
     {"mark":{"type":"bar","width":{"band":0.4},"stroke":"#404040","strokeWidth":1},"encoding":{"y":{"field":"v","type":"quantitative","scale":{"domain":[0,1.2]},"title":null,"axis":{"values":[0,0.2,0.4,0.6,0.8,1,1.2],"tickCount":20,"format":"~g","labelOverlap":false}},"fill":{"condition":{"test":"datum.g === 'WT'","value":"#F6B8B2"},"value":"#F3E5B0"}}},
     {"mark":{"type":"rule","strokeWidth":1.3,"color":"#000"},"encoding":{"y":{"field":"lo","type":"quantitative","title":null},"y2":{"field":"hi"}}},
     {"mark":{"type":"tick","size":9,"thickness":1.3,"color":"#000"},"encoding":{"y":{"field":"lo","type":"quantitative","title":null}}},
     {"mark":{"type":"tick","size":9,"thickness":1.3,"color":"#000"},"encoding":{"y":{"field":"hi","type":"quantitative","title":null}}},
     {"mark":{"type":"text","fontSize":17,"dy":-5,"color":"#000"},"encoding":{"y":{"field":"hi","type":"quantitative","title":null},"text":{"field":"sig"}}}
    ]},
   {"width":92,"height":111,"data":{"name":"ODD"},"title":{"text":"2-ODD-1","fontStyle":"italic","fontSize":16,"offset":-6,"dx":2},
    "encoding":{"x":{"field":"g","type":"nominal","sort":null,"title":null,"scale":{"paddingInner":0,"paddingOuter":0}}},
    "layer":[
     {"mark":{"type":"bar","width":{"band":0.4},"stroke":"#404040","strokeWidth":1},"encoding":{"y":{"field":"v","type":"quantitative","scale":{"domain":[0,1.2]},"title":null,"axis":{"values":[0,0.2,0.4,0.6,0.8,1,1.2],"tickCount":20,"format":"~g","labelOverlap":false}},"fill":{"condition":{"test":"datum.g === 'WT'","value":"#F6B8B2"},"value":"#F3E5B0"}}},
     {"mark":{"type":"rule","strokeWidth":1.3,"color":"#000"},"encoding":{"y":{"field":"lo","type":"quantitative","title":null},"y2":{"field":"hi"}}},
     {"mark":{"type":"tick","size":9,"thickness":1.3,"color":"#000"},"encoding":{"y":{"field":"lo","type":"quantitative","title":null}}},
     {"mark":{"type":"tick","size":9,"thickness":1.3,"color":"#000"},"encoding":{"y":{"field":"hi","type":"quantitative","title":null}}},
     {"mark":{"type":"text","fontSize":17,"dy":-5,"color":"#000"},"encoding":{"y":{"field":"hi","type":"quantitative","title":null},"text":{"field":"sig"}}}
    ]}
  ]}
],
"spacing":19.5
}
